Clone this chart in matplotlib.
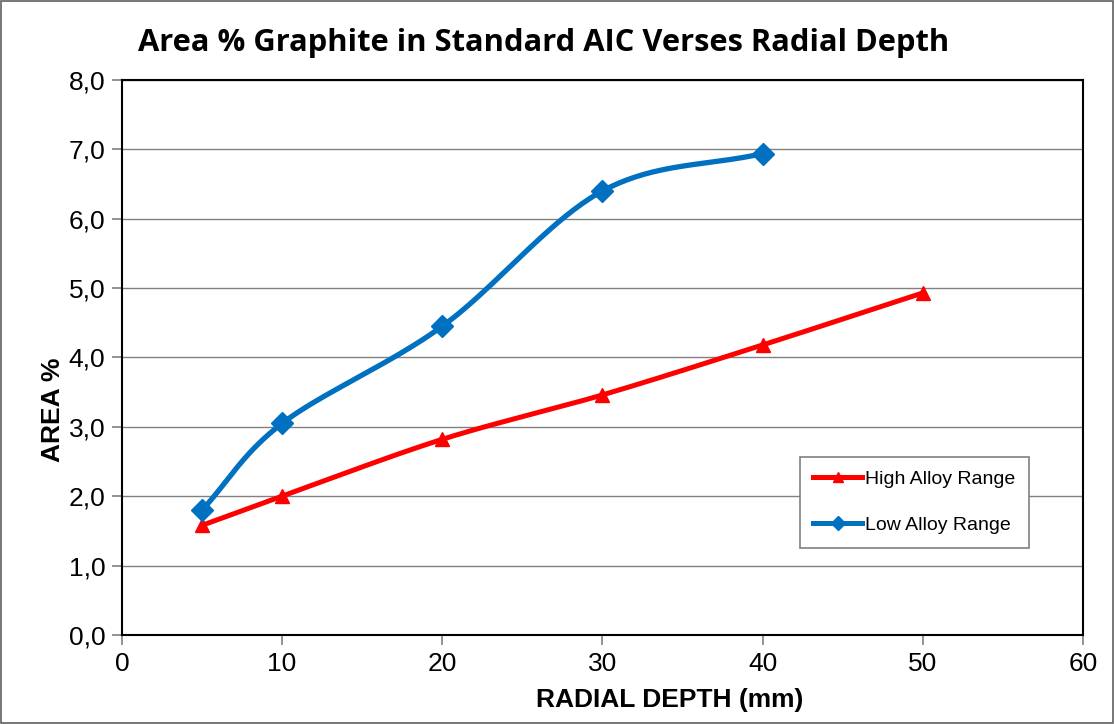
import numpy as np
import matplotlib.pyplot as plt
from matplotlib.ticker import FuncFormatter

# data
depth_high = [5, 10, 20, 30, 40, 50]
area_high = [1.58, 2.00, 2.82, 3.46, 4.18, 4.93]
depth_low = [5, 10, 20, 30, 40]
area_low = [1.80, 3.05, 4.45, 6.40, 6.94]


def smooth(x, y, n=40):
    # catmull-rom style smoothing, like the spreadsheet "smoothed line"
    x = np.asarray(x, float)
    y = np.asarray(y, float)
    px = np.concatenate([[2 * x[0] - x[1]], x, [2 * x[-1] - x[-2]]])
    py = np.concatenate([[2 * y[0] - y[1]], y, [2 * y[-1] - y[-2]]])
    xs, ys = [], []
    t = np.linspace(0, 1, n)
    for i in range(1, len(px) - 2):
        p0, p1, p2, p3 = [np.array([px[j], py[j]]) for j in range(i - 1, i + 3)]
        b1 = p1 + (p2 - p0) / 6
        b2 = p2 - (p3 - p1) / 6
        pts = ((1 - t) ** 3)[:, None] * p1 + (3 * (1 - t) ** 2 * t)[:, None] * b1 \
            + (3 * (1 - t) * t ** 2)[:, None] * b2 + (t ** 3)[:, None] * p2
        xs.extend(pts[:, 0])
        ys.extend(pts[:, 1])
    return np.array(xs), np.array(ys)


fig = plt.figure(figsize=(11.14, 7.24), dpi=100)
ax = fig.add_axes([0.1095, 0.123, 0.8625, 0.7665])

red = '#ff0000'
blue = '#0070c0'

sx, sy = smooth(depth_high, area_high)
ax.plot(sx, sy, color=red, lw=3.6, solid_capstyle='round', zorder=3)
ax.plot(depth_high, area_high, ls='none', marker='^', color=red, ms=10, zorder=4)
sx, sy = smooth(depth_low, area_low)
ax.plot(sx, sy, color=blue, lw=3.8, solid_capstyle='round', zorder=3)
ax.plot(depth_low, area_low, ls='none', marker='D', color=blue, ms=11, zorder=4)

# legend proxies
ax.plot([], [], color=red, lw=3.6, marker='^', ms=7, label='High Alloy Range')
ax.plot([], [], color=blue, lw=3.6, marker='D', ms=7, label='Low Alloy Range')
handles, labels = ax.get_legend_handles_labels()
leg = ax.legend(handles, labels, loc='upper left', bbox_to_anchor=(0.7055, 0.321),
                frameon=True, fancybox=False, framealpha=1, edgecolor='#808080',
                prop={'family': 'Liberation Sans', 'size': 14}, handlelength=2.5,
                handletextpad=0.15, labelspacing=1.46, borderpad=0.7, borderaxespad=0)
leg.get_frame().set_linewidth(1.2)

ax.set_xlim(0, 60)
ax.set_ylim(0, 8)
ax.set_xticks(range(0, 61, 10))
ax.set_yticks(range(0, 9))
ax.yaxis.set_major_formatter(FuncFormatter(lambda v, p: f'{v:.1f}'.replace('.', ',')))
ax.grid(axis='y', color='#808080', lw=1)
ax.set_axisbelow(True)
for s in ax.spines.values():
    s.set_linewidth(1.5)
    s.set_color('black')
ax.tick_params(direction='out', length=7, width=1.2, labelsize=19, pad=5, color='#808080')
for lab in ax.get_xticklabels() + ax.get_yticklabels():
    lab.set_family('Liberation Sans')

ax.set_xlabel('RADIAL DEPTH (mm)', fontsize=19, fontweight='bold', family='Liberation Sans')
ax.set_ylabel('AREA %', fontsize=19, fontweight='bold', family='Liberation Sans')
ax.xaxis.set_label_coords(0.570, -0.095)
ax.yaxis.set_label_coords(-0.059, 0.405)

title = fig.text(0.488, 0.94, 'Area % Graphite in Standard AIC Verses Radial Depth', ha='center',
                 va='center', fontsize=26, fontweight='bold', family='Open Sans')
# fit the title to the width it has in the reference
fig.canvas.draw()
w = title.get_window_extent().width
title.set_fontsize(26 * 813 / w)

fig.patches.append(plt.Rectangle((0.001, 0.001), 0.998, 0.998, transform=fig.transFigure,
                                 fill=False, edgecolor='#606060', lw=1.2))

fig.savefig('out.png', dpi=100)
